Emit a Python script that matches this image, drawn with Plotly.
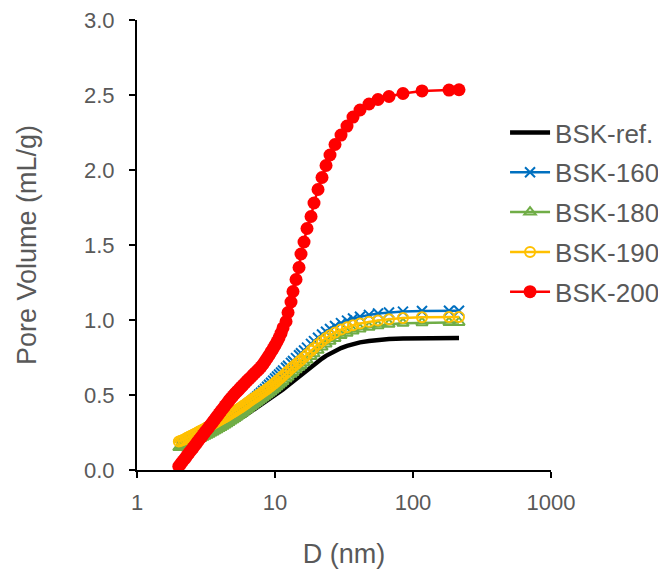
import plotly.graph_objects as go

# Pore diameter grid (nm), shared by all series (dense BJH-like grid)
D = [2.01, 2.08, 2.15, 2.23, 2.30, 2.38, 2.46, 2.55, 2.63, 2.72, 2.81, 2.91, 3.01, 3.11,
     3.22, 3.33, 3.44, 3.56, 3.68, 3.80, 3.93, 4.06, 4.20, 4.34, 4.49, 4.64, 4.80, 4.97,
     5.13, 5.31, 5.49, 5.67, 5.87, 6.07, 6.27, 6.49, 6.71, 6.93, 7.17, 7.41, 7.66, 7.92,
     8.19, 8.47, 8.76, 9.05, 9.36, 9.68, 10.0, 10.34, 10.69, 11.06, 11.43,
     12.02, 12.43, 13.06, 13.5, 14.2, 14.93, 15.43, 16.23, 17.06, 18.24, 19.17, 20.5,
     21.91, 23.43, 25.04, 27.22, 30.08, 33.25, 36.75, 41.3, 48.0, 55.78, 67.0, 84.6,
     116.2, 182.4, 215.4]

bsk_ref = [0.150, 0.153, 0.157, 0.161, 0.166, 0.171, 0.176, 0.181, 0.187, 0.192, 0.198,
           0.204, 0.210, 0.216, 0.222, 0.228, 0.235, 0.241, 0.248, 0.255, 0.262, 0.269,
           0.276, 0.283, 0.291, 0.298, 0.306, 0.314, 0.322, 0.330, 0.338, 0.346, 0.355,
           0.363, 0.372, 0.381, 0.390, 0.399, 0.408, 0.417, 0.427, 0.436, 0.445, 0.454,
           0.463, 0.471, 0.480, 0.489, 0.498, 0.507, 0.517, 0.527, 0.537,
           0.553, 0.564, 0.580, 0.591, 0.607, 0.622, 0.633, 0.650, 0.666, 0.688, 0.703,
           0.724, 0.743, 0.761, 0.777, 0.795, 0.813, 0.828, 0.840, 0.851, 0.860, 0.867,
           0.873, 0.877, 0.879, 0.880, 0.880]

bsk_160 = [0.170, 0.175, 0.180, 0.186, 0.192, 0.198, 0.204, 0.210, 0.217, 0.223, 0.230,
           0.237, 0.244, 0.251, 0.258, 0.265, 0.273, 0.280, 0.288, 0.296, 0.304, 0.312,
           0.320, 0.328, 0.337, 0.346, 0.355, 0.364, 0.373, 0.382, 0.392, 0.402, 0.412,
           0.422, 0.433, 0.444, 0.455, 0.466, 0.478, 0.490, 0.503, 0.515, 0.528, 0.541,
           0.555, 0.568, 0.582, 0.596, 0.610, 0.623, 0.637, 0.650, 0.663,
           0.682, 0.695, 0.714, 0.727, 0.746, 0.765, 0.778, 0.797, 0.816, 0.841, 0.859,
           0.882, 0.903, 0.922, 0.940, 0.960, 0.979, 0.996, 1.010, 1.022, 1.034, 1.043,
           1.050, 1.056, 1.060, 1.062, 1.062]

bsk_180 = [0.150, 0.154, 0.158, 0.163, 0.168, 0.174, 0.180, 0.186, 0.192, 0.198, 0.205,
           0.211, 0.218, 0.225, 0.232, 0.239, 0.246, 0.253, 0.261, 0.268, 0.276, 0.284,
           0.292, 0.300, 0.309, 0.317, 0.326, 0.335, 0.344, 0.353, 0.363, 0.372, 0.382,
           0.392, 0.402, 0.412, 0.423, 0.432, 0.442, 0.451, 0.461, 0.471, 0.481, 0.491,
           0.501, 0.511, 0.522, 0.533, 0.544, 0.555, 0.567, 0.578, 0.590,
           0.607, 0.620, 0.638, 0.650, 0.668, 0.685, 0.697, 0.715, 0.733, 0.757, 0.775,
           0.798, 0.820, 0.840, 0.858, 0.877, 0.896, 0.912, 0.926, 0.940, 0.952, 0.962,
           0.972, 0.978, 0.982, 0.984, 0.984]

bsk_190 = [0.190, 0.195, 0.200, 0.207, 0.215, 0.221, 0.228, 0.235, 0.242, 0.249, 0.256,
           0.263, 0.270, 0.277, 0.285, 0.292, 0.300, 0.307, 0.315, 0.322, 0.330, 0.337,
           0.345, 0.352, 0.360, 0.368, 0.377, 0.385, 0.393, 0.401, 0.410, 0.419, 0.428,
           0.437, 0.447, 0.456, 0.466, 0.475, 0.484, 0.493, 0.502, 0.511, 0.521, 0.530,
           0.540, 0.550, 0.560, 0.571, 0.582, 0.593, 0.605, 0.616, 0.628,
           0.646, 0.658, 0.676, 0.688, 0.705, 0.722, 0.734, 0.752, 0.770, 0.795, 0.813,
           0.838, 0.860, 0.880, 0.898, 0.917, 0.936, 0.952, 0.965, 0.977, 0.988, 0.997,
           1.005, 1.013, 1.018, 1.020, 1.020]

bsk_200 = [0.025, 0.043, 0.060, 0.078, 0.095, 0.113, 0.130, 0.148, 0.165, 0.183, 0.200,
           0.218, 0.235, 0.253, 0.270, 0.288, 0.305, 0.323, 0.340, 0.358, 0.375, 0.393,
           0.410, 0.428, 0.445, 0.462, 0.479, 0.495, 0.510, 0.524, 0.538, 0.552, 0.566,
           0.580, 0.594, 0.607, 0.620, 0.634, 0.647, 0.660, 0.673, 0.688, 0.705, 0.725,
           0.745, 0.765, 0.787, 0.808, 0.831, 0.855, 0.881, 0.912, 0.947,
           0.990, 1.050, 1.120, 1.190, 1.270, 1.350, 1.440, 1.520, 1.610, 1.690, 1.780,
           1.870, 1.950, 2.030, 2.100, 2.170, 2.233, 2.293, 2.353, 2.400, 2.440, 2.470,
           2.490, 2.510, 2.527, 2.533, 2.535]

names = ["BSK-ref.", "BSK-160", "BSK-180", "BSK-190", "BSK-200"]

x_ticks = [1, 10, 100, 1000]
x_ticktext = ["1", "10", "100", "1000"]
y_ticks = [0, 0.5, 1.0, 1.5, 2.0, 2.5, 3.0]

FONT = "Liberation Sans, Arial, sans-serif"
GRAY = "#595959"

fig = go.Figure()

fig.add_trace(go.Scatter(x=D, y=bsk_ref, name=names[0], mode="lines",
                         line=dict(color="#000000", width=4.5), legendgroup="a"))
fig.add_trace(go.Scatter(x=D, y=bsk_160, name=names[1], mode="lines+markers",
                         line=dict(color="#0070C0", width=2.5),
                         marker=dict(symbol="x-thin", size=10,
                                     line=dict(color="#0070C0", width=2)),
                         legendgroup="b"))
fig.add_trace(go.Scatter(x=D, y=bsk_180, name=names[2], mode="lines+markers",
                         line=dict(color="#70AD47", width=2.5),
                         marker=dict(symbol="triangle-up-open", size=10,
                                     color="#70AD47", line=dict(width=2)),
                         legendgroup="c"))
fig.add_trace(go.Scatter(x=D, y=bsk_190, name=names[3], mode="lines+markers",
                         line=dict(color="#FFC000", width=2.5),
                         marker=dict(symbol="circle-open", size=10,
                                     color="#FFC000", line=dict(width=2)),
                         legendgroup="d"))
fig.add_trace(go.Scatter(x=D, y=bsk_200, name=names[4], mode="lines+markers",
                         line=dict(color="#FF0000", width=2.5),
                         marker=dict(symbol="circle", size=13, color="#FF0000"),
                         legendgroup="e"))

fig.update_layout(
    width=666, height=574,
    margin=dict(l=129, r=123, t=12, b=112, autoexpand=False),
    paper_bgcolor="white", plot_bgcolor="white",
    font=dict(family=FONT, size=22, color=GRAY),
    showlegend=True,
    legend=dict(x=0.889, y=0.802, xanchor="left", yanchor="top",
                font=dict(family=FONT, size=26, color=GRAY),
                tracegroupgap=3, itemwidth=40, bgcolor="rgba(0,0,0,0)"),
    xaxis=dict(type="log", range=[0, 3], tickvals=x_ticks, ticktext=x_ticktext,
               showgrid=False, zeroline=False, showline=True, linecolor="black",
               linewidth=2, ticks="outside", ticklen=6, tickwidth=2, tickcolor="black",
               ticklabelstandoff=6, ticklabeloverflow="allow", automargin=False,
               tickfont=dict(family=FONT, size=22, color=GRAY),
               title=dict(text="D (nm)", font=dict(family=FONT, size=27, color=GRAY),
                          standoff=30)),
    yaxis=dict(range=[0, 3], tickvals=y_ticks, tickformat=".1f",
               showgrid=False, zeroline=False, showline=True, linecolor="black",
               linewidth=2, ticks="outside", ticklen=6, tickwidth=2, tickcolor="black",
               ticklabelstandoff=10, ticklabeloverflow="allow", automargin=False,
               tickfont=dict(family=FONT, size=22, color=GRAY),
               title=dict(text="Pore Volume (mL/g)",
                          font=dict(family=FONT, size=27, color=GRAY), standoff=40)),
)

fig.write_html("out.html")
